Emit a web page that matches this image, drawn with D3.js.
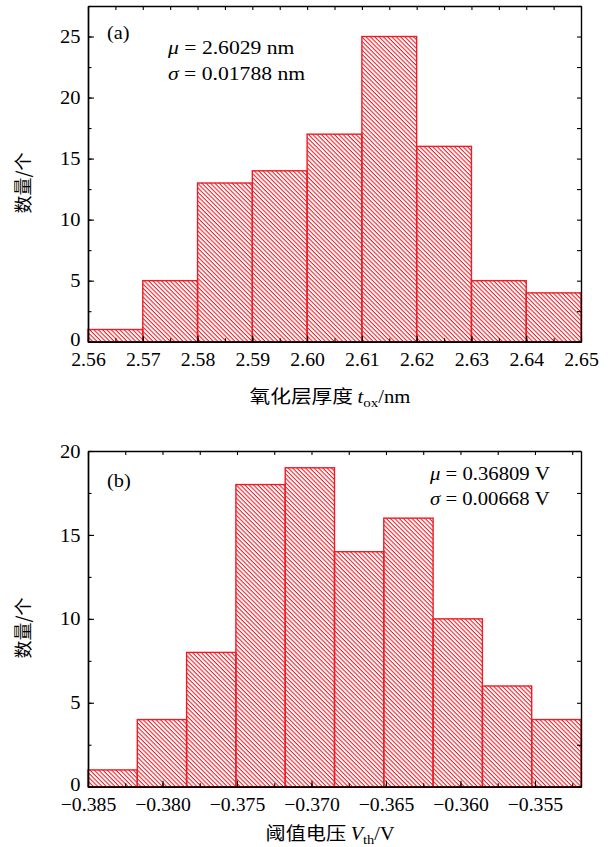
<!DOCTYPE html>
<html><head><meta charset="utf-8">
<script src="https://cdn.jsdelivr.net/npm/d3@7"></script>
<style>
html,body{margin:0;padding:0;background:#fff;}
svg{display:block;}
text{font-family:"Liberation Serif","DejaVu Serif",serif;fill:#000;}
.cjk{font-family:"Noto Sans CJK SC","Noto Sans CJK JP",sans-serif;}
</style></head>
<body>
<script>
// ---------- data ----------
const oxStart = 2.56;            // nm, first bin edge
const oxBinWidth = 0.01;         // nm
const oxCounts = [1, 5, 13, 14, 17, 25, 16, 5, 4];
const oxTicks = [2.56, 2.57, 2.58, 2.59, 2.60, 2.61, 2.62, 2.63, 2.64, 2.65];
const oxYTicks = [0, 5, 10, 15, 20, 25];
const oxYMax = 27.5;

const vthStart = -0.385;         // V, first bin edge
const vthBinWidth = 0.003309;    // V
const vthCounts = [1, 4, 8, 18, 19, 14, 16, 10, 6, 4];
const vthTicks = [-0.385, -0.380, -0.375, -0.370, -0.365, -0.360, -0.355];
const vthYTicks = [0, 5, 10, 15, 20];
const vthYMax = 20;

const RED = "#ee1c25";
const W = 616, H = 847;

const svg = d3.select("body").append("svg").attr("width", W).attr("height", H);
const defs = svg.append("defs");
const pat = defs.append("pattern").attr("id", "hatch")
  .attr("patternUnits", "userSpaceOnUse").attr("width", 3.05).attr("height", 10)
  .attr("patternTransform", "rotate(-45)");
pat.append("line").attr("x1", 1).attr("y1", -1).attr("x2", 1).attr("y2", 11)
  .attr("stroke", RED).attr("stroke-width", 1.05);

function panel(o) {
  const g = svg.append("g");
  const x = d3.scaleLinear().domain(o.xDomain).range([o.left, o.right]);
  const y = d3.scaleLinear().domain([0, o.yMax]).range([o.bottom, o.top]);

  // bars
  g.append("g").selectAll("rect").data(o.counts).join("rect")
    .attr("x", (d, i) => x(o.start + i * o.bw))
    .attr("width", (d, i) => x(o.start + (i + 1) * o.bw) - x(o.start + i * o.bw))
    .attr("y", d => y(d))
    .attr("height", d => y(0) - y(d))
    .attr("fill", "url(#hatch)")
    .attr("stroke", RED).attr("stroke-width", 1.4);

  const fs = 19;
  function styleAxis(sel, keepText) {
    sel.select(".domain").attr("stroke", "#000").attr("stroke-width", 1.4);
    sel.selectAll(".tick line").attr("stroke", "#000").attr("stroke-width", 1.1);
    if (!keepText) sel.selectAll(".tick text").remove();
    sel.attr("font-size", fs).attr("font-family", null);
  }
  // minor ticks
  const xMinor = d3.range(o.xDomain[0], o.xDomain[1] + 1e-9, o.xMinorStep);
  const yMinor = d3.range(0, o.yMax + 1e-9, 2.5);

  // bottom
  g.append("g").attr("transform", `translate(0,${o.bottom})`)
    .call(d3.axisBottom(x).tickValues(xMinor).tickSizeInner(-3.5).tickSizeOuter(0).tickFormat(""))
    .call(s => styleAxis(s, false));
  const bx = g.append("g").attr("transform", `translate(0,${o.bottom})`)
    .call(d3.axisBottom(x).tickValues(o.xTicks).tickSizeInner(-6).tickSizeOuter(0)
      .tickPadding(11).tickFormat(d3.format(o.fmt)))
    .call(s => styleAxis(s, true));
  bx.selectAll(".tick text").attr("transform", "scale(1.04,1)");
  // top
  g.append("g").attr("transform", `translate(0,${o.top})`)
    .call(d3.axisTop(x).tickValues(xMinor).tickSizeInner(-4).tickSizeOuter(0).tickFormat(""))
    .call(s => styleAxis(s, false));
  // left
  g.append("g").attr("transform", `translate(${o.left},0)`)
    .call(d3.axisLeft(y).tickValues(yMinor).tickSizeInner(-3.5).tickSizeOuter(0).tickFormat(""))
    .call(s => styleAxis(s, false));
  const ly = g.append("g").attr("transform", `translate(${o.left},0)`)
    .call(d3.axisLeft(y).tickValues(o.yTicks).tickSizeInner(-6).tickSizeOuter(0).tickPadding(7)
      .tickFormat(d3.format("d")))
    .call(s => styleAxis(s, true));
  ly.selectAll(".tick text").attr("transform", "scale(1.08,1)");
  ly.selectAll(".tick text").filter(d => d === 0).attr("dy", "0.2em");
  // right
  g.append("g").attr("transform", `translate(${o.right},0)`)
    .call(d3.axisRight(y).tickValues(yMinor).tickSizeInner(-4).tickSizeOuter(0).tickFormat(""))
    .call(s => styleAxis(s, false));

  // y label
  svg.append("text").attr("class", "cjk")
    .attr("transform", `translate(${o.yLabelX},${o.yLabelY}) rotate(-90)`)
    .attr("text-anchor", "middle").attr("font-size", 18)
    .text("数量/个");
  return {x, y};
}

function mathLine(x0, y0, sx, sym, rest, anchor) {
  const t = svg.append("text")
    .attr("transform", `translate(${x0},${y0}) scale(${sx},1)`)
    .attr("font-size", 18.5).attr("text-anchor", anchor || "start");
  t.append("tspan").attr("font-style", "italic").text(sym);
  t.append("tspan").text(rest);
  return t;
}

// ---------- panel (a) ----------
panel({
  xDomain: [oxStart, oxStart + oxCounts.length * oxBinWidth],
  start: oxStart, bw: oxBinWidth, counts: oxCounts,
  xTicks: oxTicks, fmt: ".2f", xMinorStep: 0.005,
  yTicks: oxYTicks, yMax: oxYMax,
  left: 88, right: 581, top: 6, bottom: 341.7,
  yLabelX: 30, yLabelY: 183
});
svg.append("text").attr("transform", "translate(107,39) scale(1.1,1)").attr("font-size", 18.5).text("(a)");
mathLine(168, 54, 1.17, "μ", " = 2.6029 nm");
mathLine(168, 80, 1.17, "σ", " = 0.01788 nm");
{
  const t = svg.append("text").attr("transform", "translate(330,403) scale(1.15,1)")
    .attr("text-anchor", "middle").attr("font-size", 18);
  t.append("tspan").attr("class", "cjk").text("氧化层厚度 ");
  t.append("tspan").attr("font-style", "italic").text("t");
  t.append("tspan").attr("font-size", 13).attr("dy", 4).text("ox");
  t.append("tspan").attr("dy", -4).text("/nm");
}

// ---------- panel (b) ----------
panel({
  xDomain: [vthStart, vthStart + vthCounts.length * vthBinWidth],
  start: vthStart, bw: vthBinWidth, counts: vthCounts,
  xTicks: vthTicks, fmt: ".3f", xMinorStep: 0.0025,
  yTicks: vthYTicks, yMax: vthYMax,
  left: 88, right: 581, top: 451, bottom: 786.7,
  yLabelX: 30, yLabelY: 628
});
svg.append("text").attr("transform", "translate(107,487) scale(1.1,1)").attr("font-size", 18.5).text("(b)");
mathLine(430, 480, 1.12, "μ", " = 0.36809 V");
mathLine(430, 505, 1.12, "σ", " = 0.00668 V");
{
  const t = svg.append("text").attr("transform", "translate(330,840) scale(1.12,1)")
    .attr("text-anchor", "middle").attr("font-size", 18);
  t.append("tspan").attr("class", "cjk").text("阈值电压 ");
  t.append("tspan").attr("font-style", "italic").text("V");
  t.append("tspan").attr("font-size", 13).attr("dy", 4).text("th");
  t.append("tspan").attr("dy", -4).text("/V");
}
</script>
</body></html>
